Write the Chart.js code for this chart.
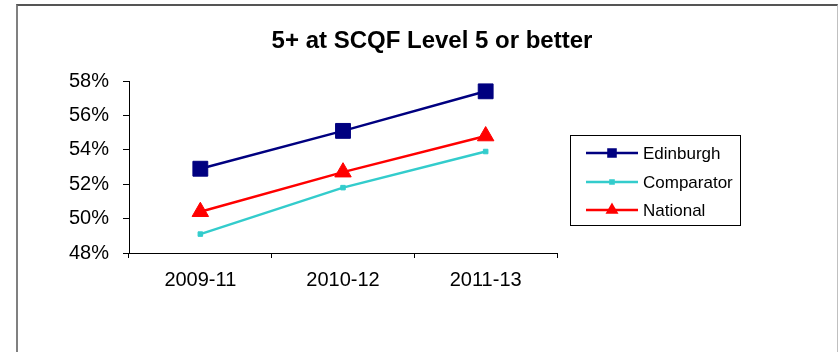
<!DOCTYPE html>
<html>
<head>
<meta charset="utf-8">
<script src="https://cdn.jsdelivr.net/npm/chart.js@4/dist/chart.umd.min.js"></script>
<style>
  html, body { margin: 0; padding: 0; background: #fff; }
  #wrap { position: relative; width: 839px; height: 352px; overflow: hidden; }
  #frame {
    position: absolute; left: 16px; top: 4px; width: 822px; height: 400px;
    border-left: 2px solid #808080; border-top: 2px solid #555;
    border-right: 1px solid #c0c0c0; box-sizing: border-box;
  }
  canvas { position: absolute; left: 0; top: 0; }
</style>
</head>
<body>
<div id="wrap">
  <div id="frame"></div>
  <canvas id="c" width="839" height="352"></canvas>
</div>
<script>
// Three-year rolling periods and the share of leavers with 5+ awards at SCQF Level 5 or better
const periods = ['2009-11', '2010-12', '2011-13'];
const edinburgh = [52.9, 55.1, 57.4];
const comparator = [49.1, 51.8, 53.9];
const national = [50.4, 52.7, 54.8];
const yTicks = [48, 50, 52, 54, 56, 58];
const chartTitle = '5+ at SCQF Level 5 or better';

const FONT = "'Liberation Sans', Arial, sans-serif";

// Title and boxed legend are painted after the chart itself
const decorations = {
  id: 'decorations',
  afterDraw(chart) {
    const ctx = chart.ctx;
    ctx.save();
    ctx.fillStyle = '#000';
    ctx.font = 'bold 24px ' + FONT;
    ctx.textAlign = 'center';
    ctx.textBaseline = 'middle';
    ctx.fillText(chartTitle, 432, 41);

    // legend box
    ctx.strokeStyle = '#000';
    ctx.lineWidth = 1;
    ctx.strokeRect(570.5, 135.5, 170, 90);
    const legendRadius = [5, 2.2, 5];
    chart.data.datasets.forEach((ds, i) => {
      const y = Math.round(153 + i * 28.7);
      ctx.strokeStyle = ds.borderColor;
      ctx.lineWidth = ds.borderWidth;
      ctx.beginPath();
      ctx.moveTo(586, y);
      ctx.lineTo(638, y);
      ctx.stroke();
      ctx.fillStyle = ds.pointBackgroundColor;
      ctx.strokeStyle = ds.pointBorderColor;
      Chart.helpers.drawPoint(ctx, {
        pointStyle: ds.pointStyle, radius: legendRadius[i], rotation: 0, borderWidth: 1
      }, 612, y);
      ctx.fillStyle = '#000';
      ctx.font = '17px ' + FONT;
      ctx.textAlign = 'left';
      ctx.textBaseline = 'middle';
      ctx.fillText(ds.label, 643, y + 1);
    });
    ctx.restore();
  }
};

new Chart(document.getElementById('c'), {
  type: 'line',
  data: {
    labels: periods,
    datasets: [
      {
        label: 'Edinburgh', data: edinburgh,
        borderColor: '#000080', borderWidth: 2.5,
        pointStyle: 'rect', pointRadius: 10.5,
        pointBackgroundColor: '#000080', pointBorderColor: '#000080', pointBorderWidth: 1
      },
      {
        label: 'Comparator', data: comparator,
        borderColor: '#33cccc', borderWidth: 2.5,
        pointStyle: 'rect', pointRadius: 3.2,
        pointBackgroundColor: '#33cccc', pointBorderColor: '#33cccc', pointBorderWidth: 1
      },
      {
        label: 'National', data: national,
        borderColor: '#ff0000', borderWidth: 2.5,
        pointStyle: 'triangle', pointRadius: 9.5,
        pointBackgroundColor: '#ff0000', pointBorderColor: '#ff0000', pointBorderWidth: 1
      }
    ]
  },
  options: {
    responsive: false,
    animation: false,
    devicePixelRatio: 1,
    layout: { padding: { left: 0, top: 81, right: 282, bottom: 59 } },
    plugins: {
      legend: { display: false },
      title: { display: false },
      tooltip: { enabled: false }
    },
    elements: { line: { tension: 0 } },
    scales: {
      x: {
        offset: true,
        grid: { offset: true, drawOnChartArea: false, drawTicks: true, tickLength: 5, color: '#000' },
        border: { color: '#000', width: 1 },
        ticks: { color: '#000', font: { family: FONT, size: 20 }, padding: 10, maxRotation: 0 },
        afterFit(s) { s.height = 40; }
      },
      y: {
        min: yTicks[0], max: yTicks[yTicks.length - 1],
        afterBuildTicks(s) { s.ticks = yTicks.map(v => ({ value: v })); },
        grid: { drawOnChartArea: false, drawTicks: true, tickLength: 6, color: '#000' },
        border: { color: '#000', width: 1 },
        ticks: {
          color: '#000', font: { family: FONT, size: 20 }, padding: 14,
          callback: v => v + '%'
        },
        afterFit(s) { s.width = 129; }
      }
    }
  },
  plugins: [decorations]
});
</script>
</body>
</html>
